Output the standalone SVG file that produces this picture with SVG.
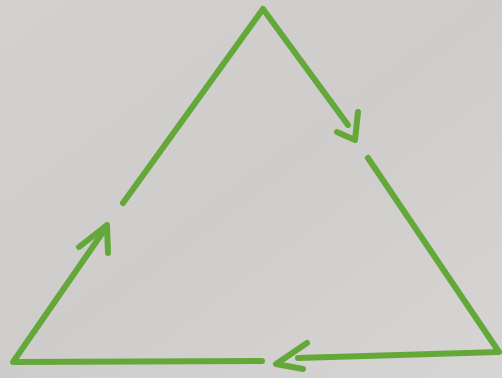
<svg xmlns="http://www.w3.org/2000/svg" width="502" height="378" viewBox="0 0 502 378">
<style>
.ln{fill:none;stroke:#64a83a;stroke-width:6;stroke-linecap:round;stroke-linejoin:round}
</style>
<defs>
<linearGradient id="bg" x1="0" y1="0" x2="1" y2="1">
<stop offset="0" stop-color="#d3d1d0"/>
<stop offset="0.5" stop-color="#cfcdcc"/>
<stop offset="1" stop-color="#d7d5d4"/>
</linearGradient>
</defs>
<rect width="502" height="378" fill="url(#bg)"/>
<g id="connectors">
<g id="edge-right">
<polyline class="ln" points="123,203 263,9 348,125"/>
<polyline class="ln" points="358,112 355,140 337,132"/>
</g>
<g id="edge-right-lower">
<polyline class="ln" points="368,158 499,352 298,358"/>
<polyline class="ln" points="307,343 276,364 303,369"/>
</g>
<g id="edge-left">
<polyline class="ln" points="262,361 13,362 103,232"/>
<polyline class="ln" points="79,247 107,225 108,253"/>
</g>
</g>
</svg>
